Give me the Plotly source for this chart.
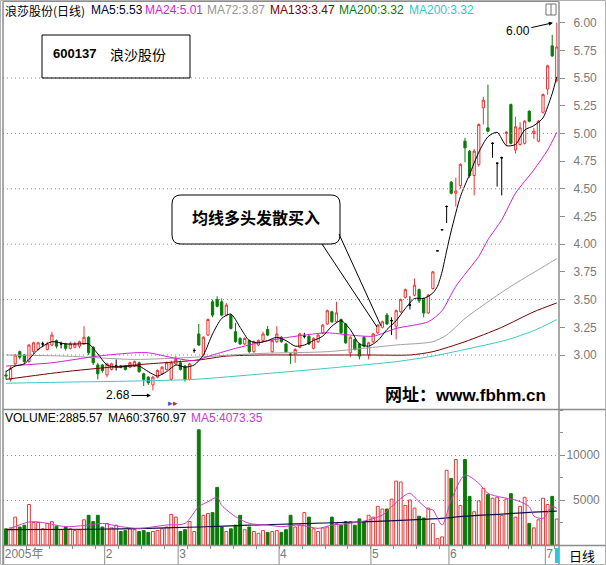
import plotly.graph_objects as go

W, H = 606, 565


def px(x):
    return x / W


def py(y):
    return 1 - y / H


# ---------------- data ----------------
days = list(range(121))
opens = [2.82, 2.78, 2.92, 3.03, 3.00, 2.94, 3.03, 3.05, 3.10, 3.05,
         3.09, 3.13, 3.10, 3.10, 3.06, 3.07, 3.08, 3.10, 3.16, 3.07,
         2.91, 2.91, 2.82, 2.87, 2.90, 2.90, 2.90, 2.89, 2.90, 2.93,
         2.83, 2.80, 2.73, 2.80, 2.83, 2.87, 2.78, 2.92, 2.93, 2.90,
         2.78, 3.04, 3.19, 3.00, 3.18, 3.48, 3.50, 3.48, 3.36, 3.36,
         3.21, 3.15, 3.10, 3.13, 3.03, 3.09, 3.13, 3.23, 3.03, 3.12,
         3.16, 3.10, 3.01, 3.01, 3.07, 3.17, 3.17, 3.06, 3.12, 3.20,
         3.28, 3.39, 3.30, 3.32, 3.28, 3.02, 3.14, 3.10, 3.16, 3.00,
         3.12, 3.20, 3.25, 3.36, 3.31, 3.26, 3.39, 3.52, 3.45, 3.54,
         3.59, 3.51, 3.38, 3.60, 3.94, 4.13, 4.34, 4.56, 4.46, 4.53,
         4.93, 4.84, 4.62, 4.72, 5.23, 5.05, 4.91, 4.73, 4.78, 5.00,
         5.26, 4.85, 4.90, 4.91, 5.20, 5.00, 4.93, 5.19, 5.40, 5.79,
         5.48]
highs = [2.86, 2.90, 3.01, 3.04, 3.01, 3.10, 3.12, 3.12, 3.12, 3.12,
         3.21, 3.14, 3.12, 3.11, 3.12, 3.12, 3.13, 3.26, 3.17, 3.08,
         2.93, 2.92, 2.93, 2.93, 2.96, 2.91, 2.91, 2.94, 2.95, 2.94,
         2.84, 2.81, 2.81, 2.87, 2.90, 2.94, 2.95, 2.99, 2.95, 2.91,
         2.93, 3.06, 3.28, 3.17, 3.33, 3.50, 3.53, 3.51, 3.47, 3.37,
         3.29, 3.16, 3.16, 3.14, 3.13, 3.14, 3.21, 3.26, 3.14, 3.26,
         3.17, 3.11, 3.02, 3.06, 3.20, 3.20, 3.18, 3.16, 3.19, 3.28,
         3.41, 3.40, 3.48, 3.33, 3.29, 3.17, 3.15, 3.11, 3.17, 3.12,
         3.20, 3.28, 3.31, 3.38, 3.34, 3.41, 3.51, 3.60, 3.53, 3.69,
         3.60, 3.52, 3.55, 3.76, 3.94, 4.13, 4.35, 4.57, 4.60, 4.73,
         4.96, 4.85, 4.86, 5.09, 5.33, 5.44, 4.92, 4.74, 4.79, 5.02,
         5.27, 5.15, 5.10, 5.12, 5.21, 5.05, 5.12, 5.36, 5.62, 5.89,
         6.00]
lows = [2.78, 2.76, 2.90, 2.96, 2.92, 2.93, 3.01, 3.04, 3.07, 3.04,
        3.08, 3.06, 3.06, 3.04, 3.05, 3.06, 3.06, 3.09, 3.00, 2.91,
        2.78, 2.84, 2.80, 2.86, 2.86, 2.88, 2.86, 2.88, 2.89, 2.84,
        2.72, 2.73, 2.68, 2.79, 2.82, 2.86, 2.77, 2.91, 2.86, 2.76,
        2.77, 3.02, 3.08, 2.99, 3.17, 3.34, 3.43, 3.35, 3.35, 3.23,
        3.11, 3.09, 3.09, 3.02, 3.02, 3.08, 3.12, 3.17, 3.02, 3.11,
        3.11, 3.02, 2.92, 2.93, 3.06, 3.15, 3.09, 3.05, 3.11, 3.19,
        3.27, 3.29, 3.29, 3.19, 3.10, 2.98, 3.04, 2.96, 3.07, 2.96,
        3.11, 3.19, 3.24, 3.27, 3.18, 3.14, 3.38, 3.51, 3.41, 3.53,
        3.47, 3.34, 3.37, 3.59, 3.94, 4.13, 4.19, 4.45, 4.34, 4.50,
        4.74, 4.60, 4.44, 4.70, 5.08, 5.01, 4.78, 4.52, 4.44, 4.89,
        4.90, 4.82, 4.89, 4.90, 5.10, 4.95, 4.92, 5.18, 5.35, 5.69,
        5.46]
closes = [2.81, 2.88, 3.00, 2.98, 2.94, 3.09, 3.11, 3.11, 3.10, 3.10,
          3.18, 3.08, 3.10, 3.06, 3.10, 3.10, 3.12, 3.16, 3.02, 2.93,
          2.83, 2.86, 2.92, 2.92, 2.90, 2.89, 2.87, 2.93, 2.94, 2.85,
          2.78, 2.75, 2.80, 2.86, 2.89, 2.93, 2.93, 2.96, 2.87, 2.78,
          2.92, 3.04, 3.09, 3.16, 3.32, 3.36, 3.44, 3.36, 3.45, 3.24,
          3.12, 3.10, 3.15, 3.03, 3.12, 3.13, 3.19, 3.18, 3.13, 3.19,
          3.12, 3.03, 3.00, 3.05, 3.19, 3.17, 3.10, 3.15, 3.18, 3.27,
          3.40, 3.30, 3.38, 3.20, 3.11, 3.16, 3.05, 2.99, 3.08, 3.11,
          3.19, 3.27, 3.30, 3.28, 3.31, 3.40, 3.50, 3.59, 3.45, 3.63,
          3.49, 3.38, 3.54, 3.75, 3.94, 4.13, 4.34, 4.46, 4.48, 4.72,
          4.87, 4.62, 4.84, 5.08, 5.30, 5.02, 4.91, 4.73, 4.78, 5.01,
          4.91, 5.06, 5.05, 5.11, 5.11, 5.02, 5.11, 5.35, 5.61, 5.70,
          5.78]
volumes = [1800, 1900, 3100, 2000, 2200, 4500, 2500, 2500, 1800, 2400,
           2600, 2100, 1700, 2000, 1800, 1600, 1700, 2800, 3300, 2600,
           3300, 2000, 2400, 1900, 2200, 1500, 1600, 1800, 1700, 1500,
           1600, 1400, 1500, 1600, 1800, 2000, 3400, 3100, 1500, 1700,
           2600, 1500, 12800, 3300, 3500, 3600, 6400, 2000, 1500, 1800,
           2200, 3300, 1700, 2000, 1500, 1300, 1600, 1400, 1500, 1600,
           1400, 1700, 3300, 2000, 2200, 3600, 3100, 1800, 1500, 1900,
           2000, 3100, 2400, 2200, 2600, 2600, 2200, 2900, 2600, 3300,
           3100, 4300, 4000, 4000, 5100, 7100, 7000, 4400, 5000, 4100,
           3200, 3000, 4100, 2400, 700, 900, 8300, 7400, 9500, 4400,
           9500, 5400, 3700, 4900, 6300, 5600, 5200, 5300, 3300, 5100,
           5700, 3100, 4300, 5300, 2400, 1900, 2800, 5200, 4500, 5400,
           2890]

# moving-average lines, read at sample days
ma5_x = [0, 2, 4, 7, 10, 13, 16, 18, 20, 22, 24, 27, 29, 31, 33, 35, 37, 39, 41,
         43, 45, 47, 49, 51, 53, 55, 57, 59, 61, 63, 65, 67, 69, 71, 73, 75, 77,
         79, 81, 83, 85, 87, 89, 91, 93, 94, 95, 96, 97, 99, 101, 103, 105, 107,
         109, 111, 113, 115, 117, 118, 119, 120]
ma5_y = [2.85, 2.90, 2.92, 3.05, 3.12, 3.10, 3.10, 3.10, 3.01, 2.91, 2.89, 2.90,
         2.90, 2.85, 2.81, 2.85, 2.91, 2.89, 2.91, 3.00, 3.19, 3.33, 3.37, 3.25,
         3.13, 3.11, 3.13, 3.16, 3.13, 3.08, 3.09, 3.13, 3.17, 3.26, 3.31, 3.23,
         3.10, 3.08, 3.13, 3.23, 3.31, 3.42, 3.51, 3.51, 3.56, 3.62, 3.75, 3.94,
         4.12, 4.43, 4.63, 4.83, 4.97, 5.01, 4.89, 4.90, 5.03, 5.07, 5.14, 5.24,
         5.36, 5.51]
ma24_x = [0, 10, 20, 28, 31, 37, 41, 45, 50, 56, 60, 65, 70, 75, 80, 85, 92, 95,
          98, 103, 105, 108, 111, 115, 118, 120]
ma24_y = [2.90, 2.93, 2.99, 3.02, 3.02, 2.97, 2.95, 3.00, 3.06, 3.12, 3.15, 3.18,
          3.20, 3.18, 3.17, 3.24, 3.30, 3.40, 3.62, 3.89, 4.04, 4.22, 4.46, 4.67,
          4.85, 5.01]
ma72_x = [0, 13, 28, 41, 56, 70, 85, 93, 96, 100, 105, 110, 116, 120]
ma72_y = [3.00, 2.99, 2.96, 2.98, 3.015, 3.03, 3.09, 3.12, 3.18, 3.33, 3.48, 3.62,
          3.77, 3.87]
ma133_x = [0, 13, 28, 42, 48, 56, 64, 79, 88, 93, 100, 108, 115, 120]
ma133_y = [2.78, 2.85, 2.91, 2.955, 2.99, 3.00, 3.00, 3.00, 3.00, 3.03, 3.12, 3.25,
           3.39, 3.47]
ma200_x = [0, 13, 28, 41, 56, 70, 85, 93, 100, 109, 115, 120]
ma200_y = [2.745, 2.755, 2.765, 2.78, 2.83, 2.88, 2.94, 2.99, 3.05, 3.135, 3.22, 3.32]
vma60_x = [0, 19, 31, 42, 53, 63, 79, 95, 100, 108, 115, 120]
vma60_y = [1700, 1750, 1850, 2000, 2200, 2350, 2600, 2960, 3200, 3440, 3650, 3761]
vma5_x = [1, 5, 7, 9, 13, 18, 21, 25, 29, 35, 39, 42, 44, 46, 47, 50, 53, 57, 60,
          64, 68, 71, 75, 79, 82, 84, 87, 88, 90, 92, 93, 95, 97, 100, 103, 105,
          108, 111, 114, 115, 117, 119, 120]
vma5_y = [1850, 2560, 2560, 2400, 2040, 2220, 2400, 2040, 1850, 2220, 2400, 4260,
          4810, 5290, 4400, 3150, 2400, 2220, 2040, 2220, 1850, 2220, 2410, 2780,
          3330, 4260, 5560, 5740, 4810, 3960, 3900, 2220, 5000, 7780, 6850, 5740,
          5300, 5000, 4260, 3220, 2960, 4260, 4073]

month_start = [0, 22, 38, 60, 80, 97, 118]
month_text = ["2005年", "2", "3", "4", "5", "6", "7"]
price_ticks = [3.00, 3.25, 3.50, 3.75, 4.00, 4.25, 4.50, 4.75, 5.00, 5.25, 5.50,
               5.75, 6.00]
price_grid = [3.00, 3.50, 4.00, 4.50, 5.00, 5.50]
vol_ticks = [5000, 10000]
vol_tick_text = ["\u20075000", "10000"]

# ---------------- styling ----------------
RED = "#F03434"
GREEN = "#0A7A0A"
AXTXT = "#7A7A7A"
FRAME = "#8C8C8C"
LAT = "Liberation Sans, Arial, Noto Sans CJK SC, sans-serif"
CJK = "Noto Sans CJK SC, sans-serif"

X_RANGE = [-0.654, 120.48]
P_RANGE = [2.5126, 6.1859]
V_RANGE = [0, 15111]
XDOM = [px(3), px(559)]


def sub(arr, idx):
    return [arr[i] for i in idx]


fig = go.Figure()

# volume bars
is_up = [closes[i] >= opens[i] for i in days]
fig.add_trace(go.Bar(
    x=days, y=volumes, xaxis="x2", yaxis="y2", width=0.62,
    marker=dict(color=["white" if u else GREEN for u in is_up],
                line=dict(color=[RED if u else GREEN for u in is_up], width=1)),
    hoverinfo="skip"))
fig.add_trace(go.Scatter(x=vma60_x, y=vma60_y, xaxis="x2", yaxis="y2", mode="lines",
                         line=dict(color="#10104A", width=1.2, shape="spline", smoothing=0.6),
                         hoverinfo="skip"))
fig.add_trace(go.Scatter(x=vma5_x, y=vma5_y, xaxis="x2", yaxis="y2", mode="lines",
                         line=dict(color="#C83CC8", width=1, shape="spline", smoothing=0.8),
                         hoverinfo="skip"))

# candles
up = [i for i in days if closes[i] > opens[i]]
down = [i for i in days if closes[i] < opens[i]]
flat = [i for i in days if closes[i] == opens[i]]
for idx, col, fill in [(up, RED, "white"), (down, GREEN, GREEN), (flat, "#000000", "#000000")]:
    fig.add_trace(go.Candlestick(
        x=sub(days, idx), open=sub(opens, idx), high=sub(highs, idx),
        low=sub(lows, idx), close=sub(closes, idx),
        increasing=dict(line=dict(color=col, width=1), fillcolor=fill),
        decreasing=dict(line=dict(color=col, width=1), fillcolor=fill),
        whiskerwidth=0, xaxis="x", yaxis="y", hoverinfo="skip"))

# price moving averages
for xs, ys, col in [(ma200_x, ma200_y, "#3CC8C8"), (ma133_x, ma133_y, "#7A0000"),
                    (ma72_x, ma72_y, "#A0A0A0"), (ma24_x, ma24_y, "#D21ED2"),
                    (ma5_x, ma5_y, "#000000")]:
    fig.add_trace(go.Scatter(x=xs, y=ys, xaxis="x", yaxis="y", mode="lines",
                             line=dict(color=col, width=1, shape="spline", smoothing=0.7),
                             hoverinfo="skip"))

# ---------------- shapes ----------------
shapes = []


def pline(x0, y0, x1, y1, color=FRAME, width=1, dash=None):
    d = dict(type="line", xref="paper", yref="paper", x0=px(x0), y0=py(y0),
             x1=px(x1), y1=py(y1), line=dict(color=color, width=width))
    if dash:
        d["line"]["dash"] = dash
    shapes.append(d)


# frame
pline(0.5, 0.5, 605.5, 0.5, "#B0B0B0")
pline(0.5, 564.5, 605.5, 564.5, "#B0B0B0")
pline(0.5, 0.5, 0.5, 564.5, "#B0B0B0")
pline(605.5, 0.5, 605.5, 564.5, "#B0B0B0")
pline(3, 1.5, 559, 1.5, FRAME)
pline(3, 1.5, 3, 564.5, FRAME, 1.5)
pline(559, 1.5, 559, 564.5, FRAME, 1.5)
pline(3, 409.5, 605.5, 409.5, FRAME, 1.5)
pline(3, 545.5, 605.5, 545.5, FRAME, 1.5)

# price grid
for g in price_grid:
    shapes.append(dict(type="line", xref="paper", yref="y", x0=XDOM[0], x1=XDOM[1],
                       y0=g, y1=g, line=dict(color="#8A8A8A", width=1, dash="1px,3px")))

# month tick lines in the date row
for m in month_start:
    shapes.append(dict(type="line", xref="x2", yref="paper", x0=m - 0.5, x1=m - 0.5,
                       y0=py(546), y1=py(564), line=dict(color=FRAME, width=1)))

# stock code box
shapes.append(dict(type="rect", xref="paper", yref="paper", x0=px(42), x1=px(190),
                   y0=py(35), y1=py(78), line=dict(color="#000000", width=1)))

# rounded callout box


def rounded(x0, y0, x1, y1, r):
    pts = [("M", x0 + r, y0), ("L", x1 - r, y0), ("Q", x1, y0, x1, y0 + r),
           ("L", x1, y1 - r), ("Q", x1, y1, x1 - r, y1), ("L", x0 + r, y1),
           ("Q", x0, y1, x0, y1 - r), ("L", x0, y0 + r), ("Q", x0, y0, x0 + r, y0)]
    out = []
    for p in pts:
        cmd = p[0]
        vals = p[1:]
        coords = []
        for k in range(0, len(vals), 2):
            coords.append(f"{px(vals[k]):.5f},{py(vals[k + 1]):.5f}")
        out.append(cmd + " " + " ".join(coords))
    return " ".join(out) + " Z"


shapes.append(dict(type="path", xref="paper", yref="paper",
                   path=rounded(172, 195, 340, 244, 9),
                   line=dict(color="#000000", width=1), fillcolor="white"))
pline(322, 244, 377, 327, "#000000", 1)
pline(339, 234, 381, 326, "#000000", 1)

# small icon top right
shapes.append(dict(type="rect", xref="paper", yref="paper", x0=px(546), x1=px(556),
                   y0=py(4), y1=py(15), line=dict(color="#707070", width=1)))
pline(551, 4, 551, 15, "#707070", 1)

# scroll marker near "7"
shapes.append(dict(type="rect", xref="paper", yref="paper", x0=px(555), x1=px(559),
                   y0=py(548), y1=py(563), line=dict(width=0), fillcolor="#30C8D8"))

# ---------------- annotations ----------------
ann = []


def text(x, y, s, size=12, color="#000000", family=LAT, xanchor="left"):
    ann.append(dict(x=px(x), y=py(y), xref="paper", yref="paper", text=s, showarrow=False,
                    xanchor=xanchor, yanchor="middle", font=dict(size=size, color=color, family=family)))


text(3, 10, "浪莎股份(日线)", 12, "#000000", CJK)
text(89, 10, "MA5:5.53", 12, "#000030")
text(143, 10, "MA24:5.01", 12, "#D21ED2")
text(205, 10, "MA72:3.87", 12, "#949494")
text(268, 10, "MA133:3.47", 12, "#7A0000")
text(337, 10, "MA200:3.32", 12, "#0A7A0A")
text(407, 10, "MA200:3.32", 12, "#30C8C8")

text(3, 418, "VOLUME:2885.57", 12, "#000000")
text(106, 418, "MA60:3760.97", 12, "#000000")
text(189, 418, "MA5:4073.35", 12, "#C83CC8")

text(51, 54, "<b>600137</b>", 13, "#000000")
text(108, 54, "浪沙股份", 14, "#000000", CJK)
text(256, 217, "<b>均线多头发散买入</b>", 16, "#000000", CJK, "center")
text(465, 395, "<b>网址：www.fbhm.cn</b>", 17, "#000000", "Liberation Sans, Noto Sans CJK SC, sans-serif", "center")
text(582, 555, "日线", 13, "#000000", CJK, "center")
text(166, 403, "<span style='color:#3050E0'>▸</span><span style='color:#E02020'>▸</span>", 9)

hi_i = highs.index(max(highs))
lo_i = lows.index(min(lows))
ann.append(dict(x=days[hi_i], y=highs[hi_i], xref="x", yref="y", text="6.00",
                showarrow=True, ax=-36, ay=8, axref="pixel", ayref="pixel",
                arrowhead=2, arrowsize=0.8, arrowwidth=1, arrowcolor="#000000",
                xshift=-3, standoff=1, font=dict(size=12, color="#000000", family=LAT)))
ann.append(dict(x=days[lo_i], y=lows[lo_i], xref="x", yref="y", text="2.68",
                showarrow=True, ax=-34, ay=0, axref="pixel", ayref="pixel",
                arrowhead=2, arrowsize=0.8, arrowwidth=1, arrowcolor="#000000",
                yshift=-5, xshift=-1, standoff=1, font=dict(size=12, color="#000000", family=LAT)))

fig.update_layout(
    width=W, height=H, margin=dict(l=0, r=0, t=0, b=0),
    paper_bgcolor="white", plot_bgcolor="white", showlegend=False, hovermode=False,
    font=dict(family=LAT, size=12, color="#000000"),
    xaxis=dict(domain=XDOM, range=X_RANGE, anchor="y", showticklabels=False, ticks="",
               showgrid=False, zeroline=False, showline=False, matches="x2",
               rangeslider=dict(visible=False), fixedrange=True),
    xaxis2=dict(domain=XDOM, range=X_RANGE, anchor="y2", tickmode="array",
                tickvals=[m - 0.5 for m in month_start], ticktext=month_text,
                ticks="", ticklabelposition="outside right", ticklabelshift=1,
                tickfont=dict(size=12, color=AXTXT, family=LAT),
                showgrid=False, zeroline=False, showline=False,
                minor=dict(ticks="outside", ticklen=3, tickcolor=FRAME, tickmode="linear",
                           tick0=-0.5, dtick=5),
                rangeslider=dict(visible=False), fixedrange=True),
    yaxis=dict(domain=[py(409), py(2)], range=P_RANGE, anchor="x", side="right",
               tickmode="array", tickvals=price_ticks,
               ticktext=[f"{v:.2f}" for v in price_ticks],
               ticks="outside", ticklen=5, tickcolor=FRAME, ticklabelstandoff=6,
               tickfont=dict(size=12, color=AXTXT, family=LAT),
               showgrid=False, zeroline=False, showline=False, fixedrange=True),
    yaxis2=dict(domain=[py(545), py(409)], range=V_RANGE, anchor="x2", side="right",
                tickmode="array", tickvals=vol_ticks, ticktext=vol_tick_text,
                ticks="outside", ticklen=5, tickcolor=FRAME, ticklabelstandoff=-1,
                tickfont=dict(size=12, color=AXTXT, family=LAT),
                showgrid=True, gridcolor="#8A8A8A", griddash="1px,3px", gridwidth=1,
                minor=dict(ticks="outside", ticklen=3, tickcolor=FRAME, tickmode="linear",
                           tick0=0, dtick=2500),
                zeroline=False, showline=False, fixedrange=True),
    shapes=shapes, annotations=ann,
)

fig.write_html("out.html",
               config={"displayModeBar": False, "staticPlot": True},
               post_script="document.body.style.margin='0';document.body.style.padding='0';"
                           "document.body.style.overflow='hidden';")
